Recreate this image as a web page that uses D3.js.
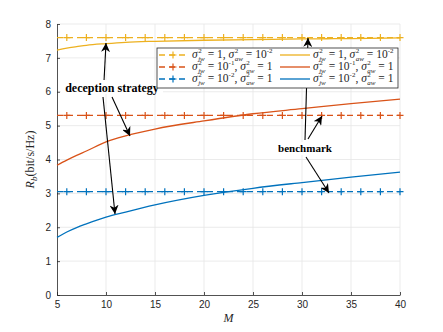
<!DOCTYPE html>
<html>
<head>
<meta charset="utf-8">
<script src="https://cdn.jsdelivr.net/npm/d3@7"></script>
<style>
  body { margin: 0; background: #fff; }
  svg { display: block; }
</style>
</head>
<body>
<svg id="chart" width="443" height="332"></svg>
<script>
// data
var mValues = [5, 6, 7, 8, 10, 12, 15, 20, 25, 30, 35, 40];
var decYellow = [7.23, 7.29, 7.33, 7.37, 7.42, 7.46, 7.49, 7.52, 7.54, 7.56, 7.57, 7.59];
var decOrange = [3.83, 3.98, 4.12, 4.25, 4.52, 4.70, 4.90, 5.14, 5.35, 5.50, 5.65, 5.78];
var decBlue = [1.70, 1.86, 1.99, 2.10, 2.30, 2.45, 2.66, 2.94, 3.15, 3.32, 3.48, 3.63];
var benchM = [6, 8, 10, 12, 14, 16, 18, 20, 22, 24, 26, 28, 30, 32, 34, 36, 38, 40];
var benchLevels = [7.6, 5.3, 3.05];
var xTicks = [5, 10, 15, 20, 25, 30, 35, 40];
var yTicks = [0, 1, 2, 3, 4, 5, 6, 7, 8];
var colors = ["#EDB120", "#D95319", "#0072BD"];
var legendLabels = [
    ["1", "10", "-2"],
    ["10", "1", null, "-1"],
    ["10", "1", null, "-2"]
];

var svg = d3.select("#chart");
var pL = 57, pR = 400, pT = 24, pB = 295;

var x = d3.scaleLinear().domain([5, 40]).range([pL, pR]);
var y = d3.scaleLinear().domain([0, 8]).range([pB, pT]);

// grid
svg.append("g").selectAll("line").data(xTicks.slice(1)).enter().append("line")
    .attr("x1", d => x(d)).attr("x2", d => x(d))
    .attr("y1", pT).attr("y2", pB)
    .attr("stroke", "#e6e6e6").attr("stroke-width", 0.8);
svg.append("g").selectAll("line").data(yTicks.slice(1)).enter().append("line")
    .attr("x1", pL).attr("x2", pR)
    .attr("y1", d => y(d)).attr("y2", d => y(d))
    .attr("stroke", "#e6e6e6").attr("stroke-width", 0.8);

// axes
var xAxis = svg.append("g").attr("transform", "translate(0," + pB + ")")
    .call(d3.axisBottom(x).tickValues(xTicks).tickSizeInner(-3).tickSizeOuter(0).tickPadding(6));
var yAxis = svg.append("g").attr("transform", "translate(" + pL + ",0)")
    .call(d3.axisLeft(y).tickValues(yTicks).tickSizeInner(-3).tickSizeOuter(0).tickPadding(6));
[xAxis, yAxis].forEach(a => {
    a.select(".domain").attr("stroke", "#262626").attr("stroke-width", 0.8);
    a.selectAll(".tick line").attr("stroke", "#262626").attr("stroke-width", 0.8);
    a.selectAll("text").attr("fill", "#262626")
        .style("font-family", "'Liberation Sans', Arial, sans-serif").style("font-size", "10px");
});

// benchmark dashed lines with plus markers
benchLevels.forEach((lv, i) => {
    svg.append("line")
        .attr("x1", x(5)).attr("x2", x(40))
        .attr("y1", y(lv)).attr("y2", y(lv))
        .attr("stroke", colors[i]).attr("stroke-width", 1.3)
        .attr("stroke-dasharray", "6,4");
    svg.append("g").selectAll("path").data(benchM).enter().append("path")
        .attr("d", d => "M" + (x(d) - 3.5) + "," + y(lv) + "h7M" + x(d) + "," + (y(lv) - 3.5) + "v7")
        .attr("stroke", colors[i]).attr("stroke-width", 1.2).attr("fill", "none");
});

// deception strategy curves
var line = d3.line().x(d => x(d[0])).y(d => y(d[1])).curve(d3.curveMonotoneX);
[decYellow, decOrange, decBlue].forEach((vals, i) => {
    svg.append("path")
        .datum(mValues.map((m, k) => [m, vals[k]]))
        .attr("d", line)
        .attr("fill", "none")
        .attr("stroke", colors[i])
        .attr("stroke-width", 1.3);
});

// annotations
var defs = svg.append("defs");
defs.append("marker").attr("id", "arr")
    .attr("viewBox", "0 0 10 10").attr("refX", 10).attr("refY", 5)
    .attr("markerWidth", 9).attr("markerHeight", 9)
    .attr("markerUnits", "userSpaceOnUse")
    .attr("orient", "auto")
    .append("path").attr("d", "M0,0 L10,5 L0,10 L3,5 Z").attr("fill", "#000");

function arrow(x1, y1, x2, y2) {
    svg.append("line")
        .attr("x1", x1).attr("y1", y1).attr("x2", x2).attr("y2", y2)
        .attr("stroke", "#000").attr("stroke-width", 1.1)
        .attr("marker-end", "url(#arr)");
}

arrow(104, 81, 106, 43);
arrow(103, 97, 115, 214);
arrow(112, 97, 130, 136);
arrow(305, 140, 308, 38);
arrow(308, 139, 322, 116);
arrow(306, 157, 329, 193);

var serif = "'Liberation Serif', 'Times New Roman', serif";
svg.append("rect").attr("x", 61).attr("y", 80).attr("width", 102).attr("height", 14).attr("fill", "#fff");
svg.append("text").attr("x", 112).attr("y", 91.5)
    .attr("text-anchor", "middle")
    .style("font-family", serif)
    .style("font-weight", "bold").style("font-size", "12px")
    .text("deception strategy");
svg.append("rect").attr("x", 279).attr("y", 142).attr("width", 53).attr("height", 13).attr("fill", "#fff");
svg.append("text").attr("x", 305).attr("y", 152)
    .attr("text-anchor", "middle")
    .style("font-family", serif)
    .style("font-weight", "bold").style("font-size", "11px")
    .text("benchmark");

// axis labels
svg.append("text").attr("x", x(22.5)).attr("y", 322)
    .attr("text-anchor", "middle")
    .style("font-family", serif).style("font-style", "italic").style("font-size", "12px")
    .attr("fill", "#262626").text("M");
var yl = svg.append("text")
    .attr("transform", "translate(34," + ((pT + pB) / 2) + ") rotate(-90)")
    .attr("text-anchor", "middle")
    .style("font-family", serif).style("font-size", "12px").attr("fill", "#262626");
yl.append("tspan").style("font-style", "italic").text("R");
yl.append("tspan").attr("dy", 3).style("font-size", "9px").style("font-style", "italic").text("b");
yl.append("tspan").attr("dy", -3).text("(bit/s/Hz)");

// legend
var lg = svg.append("g");
lg.append("rect").attr("x", 157).attr("y", 48).attr("width", 241).attr("height", 40)
    .attr("fill", "#fff").attr("stroke", "#262626").attr("stroke-width", 0.8);

function seg(g, xp, yp, str, opts) {
    opts = opts || {};
    var t = g.append("text").attr("x", xp).attr("y", yp)
        .style("font-family", serif)
        .style("font-size", (opts.size || 11.5) + "px")
        .style("font-style", opts.italic ? "italic" : "normal")
        .attr("fill", "#262626")
        .attr("xml:space", "preserve")
        .text(str);
    return xp + t.node().getComputedTextLength();
}
function sigma(g, xp, yp, sub) {
    xp = seg(g, xp, yp, "\u03c3", {italic: true});
    var a = seg(g, xp + 0.5, yp - 5, "2", {size: 7});
    var b = seg(g, xp + 0.5, yp + 3, sub, {size: 7, italic: true});
    return Math.max(a, b);
}
function legendText(g, xp, yp, lab) {
    xp = sigma(g, xp, yp, "jw");
    xp = seg(g, xp, yp, " = " + lab[0]);
    if (lab[3]) xp = seg(g, xp, yp - 5, lab[3], {size: 7});
    xp = seg(g, xp, yp, ", ");
    xp = sigma(g, xp, yp, "aw");
    xp = seg(g, xp, yp, " = " + lab[1]);
    if (lab[2]) seg(g, xp, yp - 5, lab[2], {size: 7});
}

[55, 67, 79].forEach((ry, i) => {
    // dashed with marker
    lg.append("line").attr("x1", 159).attr("x2", 187).attr("y1", ry).attr("y2", ry)
        .attr("stroke", colors[i]).attr("stroke-width", 1.3).attr("stroke-dasharray", "6,4");
    lg.append("path").attr("d", "M169.5," + ry + "h7M173," + (ry - 3.5) + "v7")
        .attr("stroke", colors[i]).attr("stroke-width", 1.2);
    legendText(lg, 192, ry + 3, legendLabels[i]);
    // solid
    lg.append("line").attr("x1", 280).attr("x2", 310).attr("y1", ry).attr("y2", ry)
        .attr("stroke", colors[i]).attr("stroke-width", 1.3);
    legendText(lg, 313, ry + 3, legendLabels[i]);
});
</script>
</body>
</html>
